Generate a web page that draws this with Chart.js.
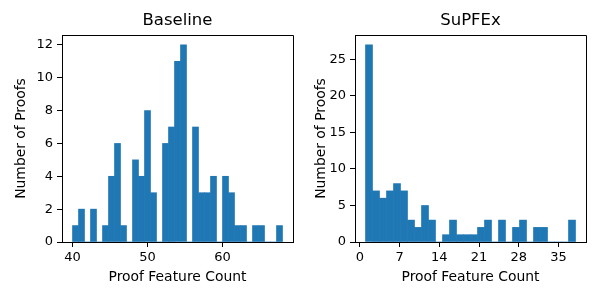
<!DOCTYPE html>
<html>
<head>
<meta charset="utf-8">
<script src="https://cdn.jsdelivr.net/npm/chart.js@4.4.0/dist/chart.umd.min.js"></script>
<style>
  html, body { margin: 0; padding: 0; background: #fff; }
  #wrap { position: relative; width: 600px; height: 300px; }
  .panel { position: absolute; top: 0; width: 300px; height: 300px; }
</style>
</head>
<body>
<div id="wrap">
  <div class="panel" style="left:0"><canvas id="c1" width="300" height="300"></canvas></div>
  <div class="panel" style="left:300px"><canvas id="c2" width="300" height="300"></canvas></div>
</div>
<script>
// ---- Data ----
const baselineTitle = "Baseline";
const baselineRange = [40, 68];          // histogram range (35 bins)
const baselineCounts = [1, 2, 0, 2, 0, 1, 4, 6, 1, 0, 5, 4, 8, 3, 0, 6, 7, 11, 12, 0, 7, 3, 3, 4, 0, 4, 3, 1, 1, 0, 1, 1, 0, 0, 1];
const baselineXTicks = [40, 50, 60];
const baselineYTicks = [0, 2, 4, 6, 8, 10, 12];

const supfexTitle = "SuPFEx";
const supfexRange = [1, 38];             // histogram range (30 bins)
const supfexCounts = [27, 7, 6, 7, 8, 7, 3, 2, 5, 3, 0, 1, 3, 1, 1, 1, 2, 3, 0, 3, 0, 2, 3, 0, 2, 2, 0, 0, 0, 3];
const supfexXTicks = [0, 7, 14, 21, 28, 35];
const supfexYTicks = [0, 5, 10, 15, 20, 25];

const xLabel = "Proof Feature Count";
const yLabel = "Number of Proofs";
const barColor = "#1f77b4";
const FONT = "'DejaVu Sans', sans-serif";

function binPoints(range, counts) {
  const w = (range[1] - range[0]) / counts.length;
  return counts.map((c, i) => ({ x: range[0] + w * (i + 0.5), y: c }));
}

// draws the top and right spines (left/bottom are the axis borders)
const frame = {
  id: 'frame',
  afterDraw(chart) {
    const a = chart.chartArea, ctx = chart.ctx;
    const al = p => Math.round(p - 0.5) + 0.5;
    ctx.save();
    ctx.strokeStyle = '#000';
    ctx.lineWidth = 1;
    ctx.beginPath();
    ctx.moveTo(al(a.left), al(a.top));
    ctx.lineTo(al(a.right), al(a.top));
    ctx.lineTo(al(a.right), al(a.bottom));
    ctx.stroke();
    ctx.restore();
  }
};

function makeChart(id, title, range, counts, xTicks, yTicks, yAxisW, rightPad) {
  const span = range[1] - range[0];
  const ymaxData = Math.max(...counts);
  return new Chart(document.getElementById(id), {
    type: 'bar',
    data: {
      datasets: [{
        data: binPoints(range, counts),
        backgroundColor: barColor,
        borderWidth: 0,
        categoryPercentage: 1.0,
        barPercentage: 1.0
      }]
    },
    options: {
      responsive: false,
      animation: false,
      devicePixelRatio: 1,
      layout: { padding: { left: 0, right: rightPad, top: 0, bottom: 0 } },
      plugins: {
        legend: { display: false },
        tooltip: { enabled: false },
        title: {
          display: true,
          text: title,
          fullSize: false,
          color: '#000',
          font: { family: FONT, size: 16.5, weight: 'normal' },
          padding: { top: 11, bottom: 4.2 }
        }
      },
      scales: {
        x: {
          type: 'linear',
          offset: false,
          min: range[0] - span * 0.05,
          max: range[1] + span * 0.05,
          afterBuildTicks: s => { s.ticks = xTicks.map(v => ({ value: v })); },
          afterFit: s => { s.height = 58; },
          grid: { display: true, offset: false, drawOnChartArea: false, drawTicks: true, tickLength: 5, color: '#000' },
          border: { display: true, color: '#000', width: 1 },
          ticks: { color: '#000', padding: 3, maxRotation: 0, font: { family: FONT, size: 13 } },
          title: { display: true, text: xLabel, color: '#000', font: { family: FONT, size: 13.9 }, padding: { top: 0, bottom: 14.5 } }
        },
        y: {
          type: 'linear',
          min: 0,
          max: ymaxData * 1.05,
          afterBuildTicks: s => { s.ticks = yTicks.map(v => ({ value: v })); },
          afterFit: s => { s.width = yAxisW; },
          grid: { display: true, drawOnChartArea: false, drawTicks: true, tickLength: 5, color: '#000' },
          border: { display: true, color: '#000', width: 1 },
          ticks: { color: '#000', padding: 4, font: { family: FONT, size: 13 } },
          title: { display: true, text: yLabel, color: '#000', font: { family: FONT, size: 13.9 }, padding: { top: 13, bottom: 0 } }
        }
      }
    },
    plugins: [frame]
  });
}

makeChart('c1', baselineTitle, baselineRange, baselineCounts, baselineXTicks, baselineYTicks, 62, 7);
makeChart('c2', supfexTitle, supfexRange, supfexCounts, supfexXTicks, supfexYTicks, 55, 14);
</script>
</body>
</html>
